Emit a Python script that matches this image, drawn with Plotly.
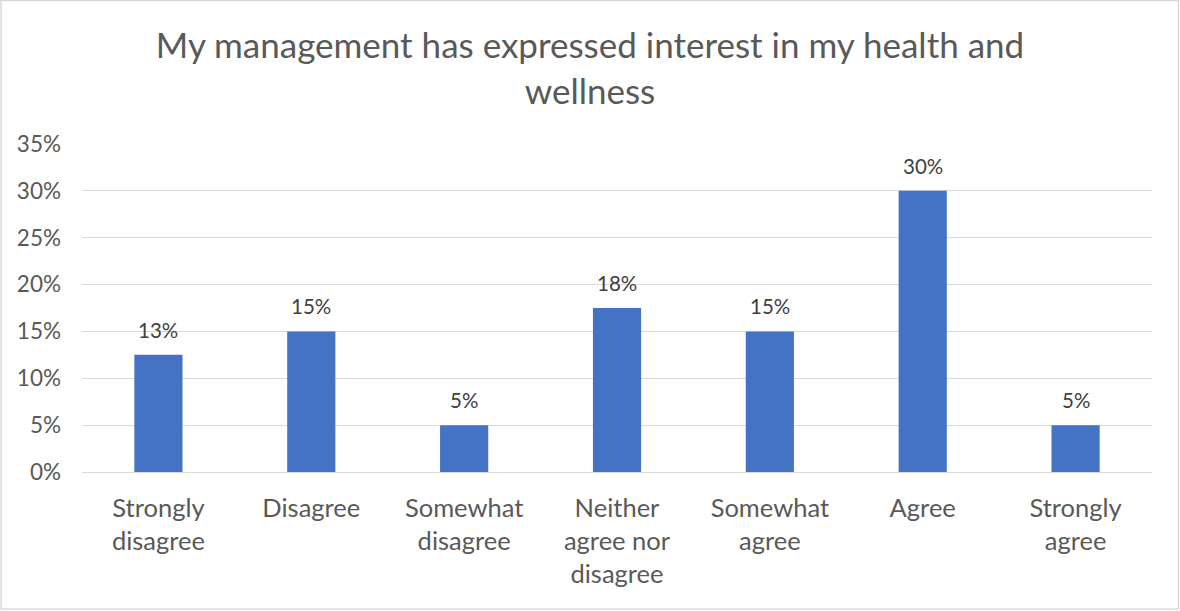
import plotly.graph_objects as go

# Survey responses
categories = [
    "Strongly<br>disagree",
    "Disagree",
    "Somewhat<br>disagree",
    "Neither<br>agree nor<br>disagree",
    "Somewhat<br>agree",
    "Agree",
    "Strongly<br>agree",
]
shares = [12.5, 15.0, 5.0, 17.5, 15.0, 30.0, 5.0]  # percent of respondents
y_ticks = [0, 5, 10, 15, 20, 25, 30, 35]
y_tick_labels = [f"{t}%" for t in y_ticks]

# Labels rounded half-up to whole percents
bar_labels = [f"{int(v + 0.5)}%" for v in shares]

W, H = 1180, 611
ML, MR, MT, MB = 82, 28, 144, 139
FONT = "Lato, 'Open Sans', sans-serif"
GREY = "#595959"

fig = go.Figure(
    go.Bar(
        x=categories,
        y=shares,
        marker=dict(color="#4472C4", line=dict(width=0)),
        hoverinfo="x+y",
    )
)

# Value labels sit a little above each bar
for cat, val, lab in zip(categories, shares, bar_labels):
    fig.add_annotation(
        x=cat,
        y=val,
        text=lab,
        showarrow=False,
        yanchor="bottom",
        yshift=11,
        font=dict(size=20.5, color="#404040", family=FONT),
    )

pw, ph = W - ML - MR, H - MT - MB
fig.update_layout(
    width=W,
    height=H,
    margin=dict(l=ML, r=MR, t=MT, b=MB),
    paper_bgcolor="white",
    plot_bgcolor="white",
    bargap=0.685,
    showlegend=False,
    title=dict(
        text="My management has expressed interest in my health and<br>wellness",
        x=0.5,
        xanchor="center",
        y=1 - 58 / H,
        yanchor="middle",
        font=dict(size=35, color=GREY, family=FONT),
    ),
    xaxis=dict(
        showgrid=False,
        showline=False,
        ticks="",
        tickfont=dict(size=25.5, color=GREY, family=FONT),
        ticklabelstandoff=18,
    ),
    yaxis=dict(
        range=[0, 35],
        tickvals=y_ticks,
        ticktext=y_tick_labels,
        showgrid=True,
        gridcolor="#D9D9D9",
        gridwidth=1,
        zeroline=True,
        zerolinecolor="#D9D9D9",
        zerolinewidth=1,
        showline=False,
        ticks="",
        tickfont=dict(size=22.5, color=GREY, family=FONT),
        ticklabelstandoff=20,
    ),
    shapes=[
        dict(
            type="rect",
            xref="paper",
            yref="paper",
            x0=(1 - ML) / pw,
            x1=1 + (MR - 1.5) / pw,
            y0=-(MB - 2) / ph,
            y1=1 + (MT - 0.5) / ph,
            line=dict(color="#D9D9D9", width=1.5),
            fillcolor="rgba(0,0,0,0)",
            layer="below",
        )
    ],
)

fig.write_html("out.html")
